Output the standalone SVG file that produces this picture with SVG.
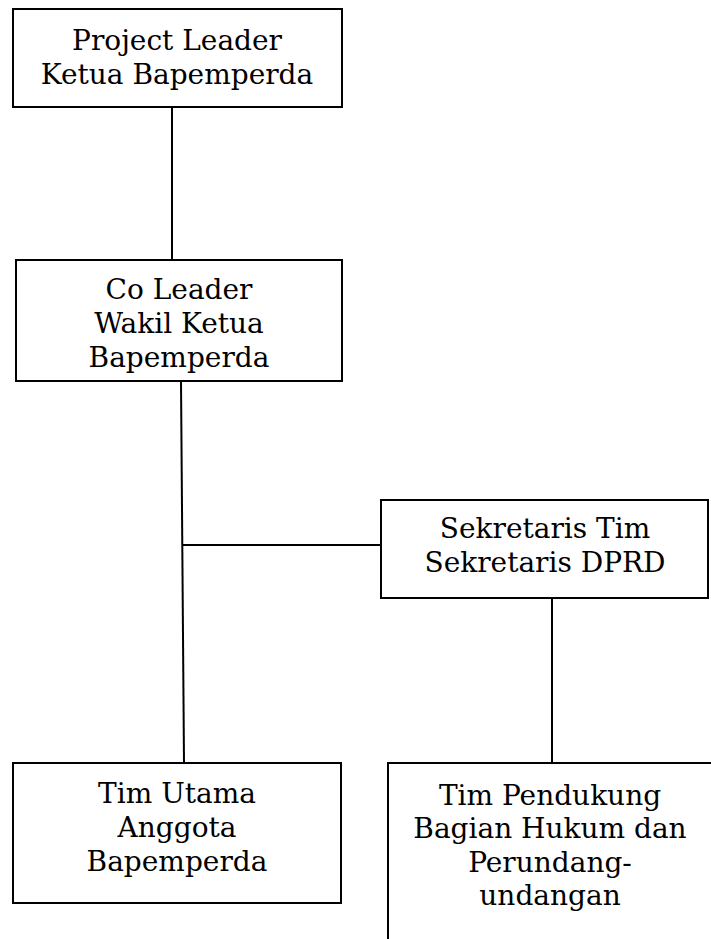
<svg xmlns="http://www.w3.org/2000/svg" width="711" height="939" viewBox="0 0 711 939">
<style>
.box{fill:#fff;stroke:#000;stroke-width:2}
.ln{stroke:#000;stroke-width:2;fill:none}
text{font-family:"DejaVu Serif","Liberation Serif",serif;font-size:28px;fill:#000;text-anchor:middle}
</style>
<rect width="711" height="939" fill="#fff"/>
<g id="connectors">
<line class="ln" x1="172" y1="107" x2="172" y2="260"/>
<line class="ln" x1="181" y1="381" x2="184" y2="763"/>
<line class="ln" x1="183" y1="545" x2="381" y2="545"/>
<line class="ln" x1="552" y1="598" x2="552" y2="763"/>
</g>
<g id="project-leader">
<rect class="box" x="13" y="9" width="329" height="98"/>
<text x="177" y="50">Project Leader</text>
<text x="177" y="84">Ketua Bapemperda</text>
</g>
<g id="co-leader">
<rect class="box" x="16" y="260" width="326" height="121"/>
<text x="179" y="299">Co Leader</text>
<text x="179" y="333">Wakil Ketua</text>
<text x="179" y="367">Bapemperda</text>
</g>
<g id="sekretaris">
<rect class="box" x="381" y="500" width="327" height="98"/>
<text x="545" y="538">Sekretaris Tim</text>
<text x="545" y="572">Sekretaris DPRD</text>
</g>
<g id="tim-utama">
<rect class="box" x="13" y="763" width="328" height="140"/>
<text x="177" y="803">Tim Utama</text>
<text x="177" y="837">Anggota</text>
<text x="177" y="871">Bapemperda</text>
</g>
<g id="tim-pendukung">
<rect class="box" x="388" y="763" width="340" height="200"/>
<text x="550" y="805">Tim Pendukung</text>
<text x="550" y="838">Bagian Hukum dan</text>
<text x="550" y="872">Perundang-</text>
<text x="550" y="905">undangan</text>
</g>
</svg>
